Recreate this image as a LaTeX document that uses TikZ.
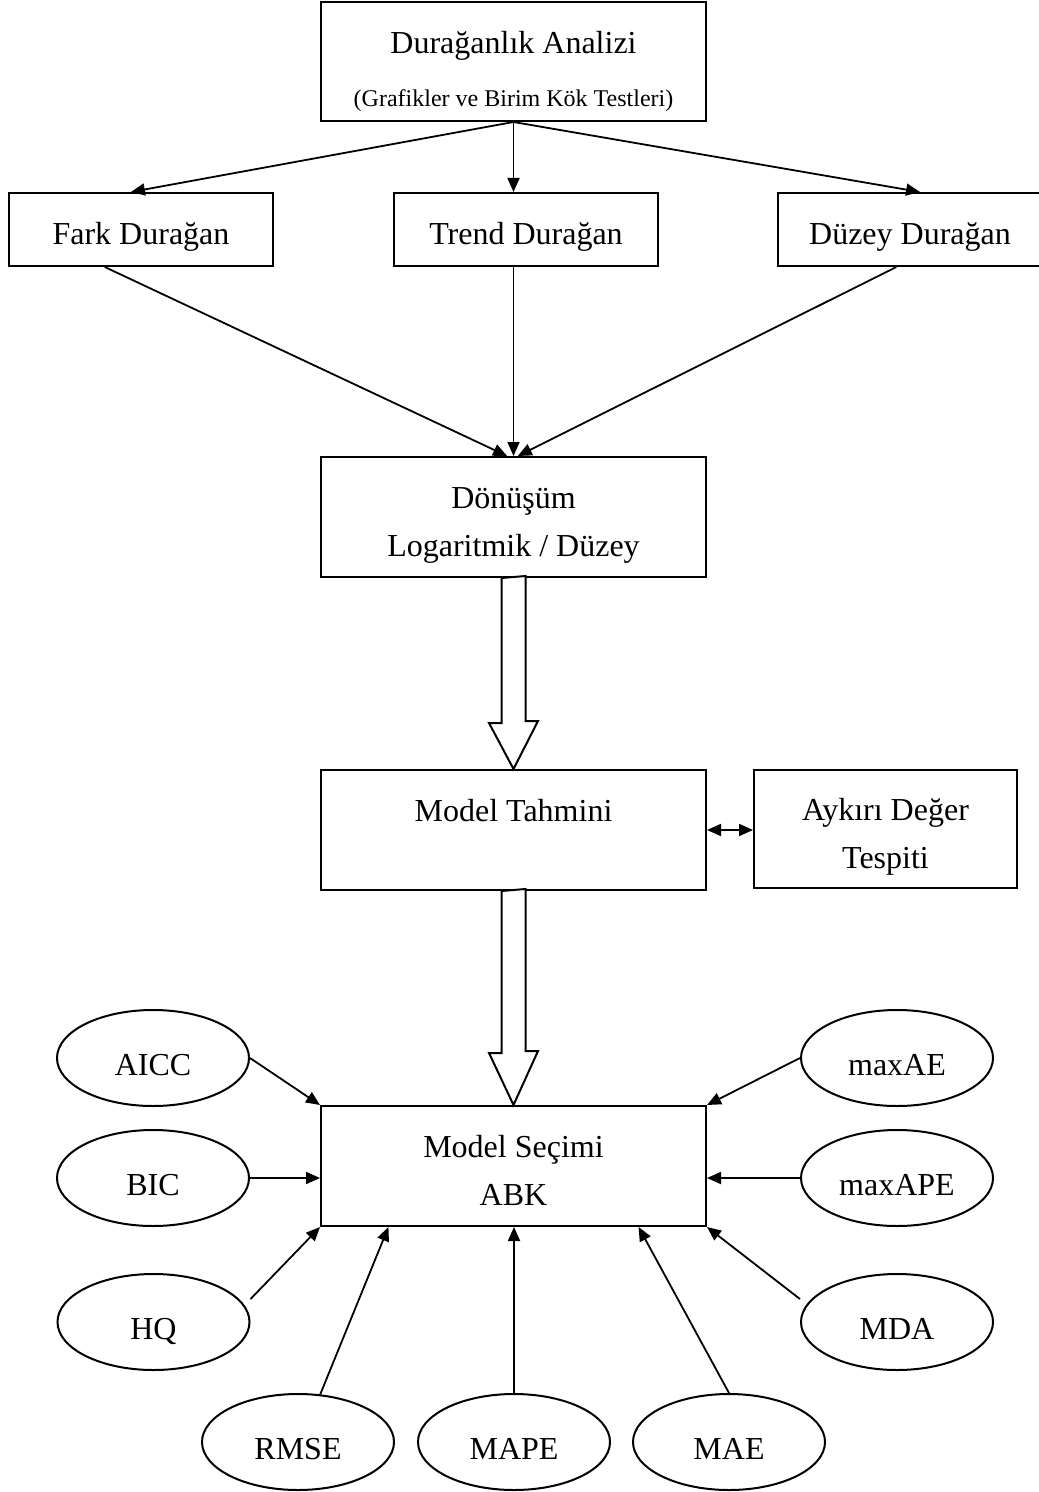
\documentclass[tikz,border=0pt]{standalone}
\usepackage{fontspec}
\setmainfont{Liberation Serif}
\usepackage{tikz}
\usetikzlibrary{shapes.geometric, arrows.meta}

\newcommand{\ustboy}{\rule{0pt}{19.5pt}}
\newcommand{\altboy}{\rule[-4.5pt]{0pt}{0pt}}

\tikzset{
  kutu/.style={rectangle, draw, line width=1pt, align=center, inner sep=0pt},
  tek/.style={text height=19.5pt, text depth=4pt},
  oval/.style={ellipse, draw, line width=1pt, minimum width=96pt, minimum height=48pt, inner sep=0pt, text height=19.5pt, text depth=2.5pt},
  ok/.style={line width=0.9pt, -{Triangle[length=7pt,width=6pt]}},
  bos/.style={draw, line width=1pt, fill=white}
}

\begin{document}
\begin{tikzpicture}[x=0.5pt, y=-0.5pt, font=\fontsize{16}{24}\selectfont]
  \path[use as bounding box, fill=white] (0,0) rectangle (1038,1492);

  \node[kutu, minimum width=192.5pt, minimum height=59.5pt] (Analiz) at (513.5,61.5) {\rule{0pt}{23.5pt}Durağanlık Analizi\\[2.5pt]{\fontsize{12}{14}\selectfont (Grafikler ve Birim Kök Testleri)\altboy}};
  \node[kutu, tek, minimum width=132pt, minimum height=36.5pt] (Fark) at (141,229.5) {Fark Durağan};
  \node[kutu, tek, minimum width=132pt, minimum height=36.5pt] (Trend) at (526,229.5) {Trend Durağan};
  \node[kutu, tek, minimum width=132pt, minimum height=36.5pt] (Duzey) at (910,229.5) {Düzey Durağan};
  \draw[ok] (Analiz.south) -- (Fark.105);
  \draw[ok] (Analiz.south) -- (Analiz.south |- Trend.north);
  \draw[ok] (Analiz.south) -- (Duzey.75);

  \node[kutu, minimum width=192.5pt, minimum height=60pt] (Donusum) at (513.5,517) {\ustboy Dönüşüm\\Logaritmik / Düzey\altboy};
  \draw[ok] (Fark.226) -- (Donusum.96);
  \draw[ok] (Trend.south -| Donusum.north) -- (Donusum.north);
  \draw[ok] (Duzey.250) -- (Donusum.86);

  \node[kutu, minimum width=192.5pt, minimum height=60pt] (Tahmin) at (513.5,830) {\ustboy Model Tahmini\\ \altboy};
  \node[kutu, minimum width=131.5pt, minimum height=59pt] (Aykiri) at (885.5,829) {\ustboy Aykırı Değer\\Tespiti\altboy};
  \draw[ok, {Triangle[length=7pt,width=6pt]}-{Triangle[length=7pt,width=6pt]}] (Tahmin.east) -- (Tahmin.east -| Aykiri.west);

  % bos oklar
  \draw[bos] (Donusum.south) ++(-12,0) -- ++(0,145) -- ++(-12.5,0) -- (Tahmin.north) -- ++(24.5,-48) -- ++(-12.5,0) -- ++(0,-145) -- cycle;

  \node[kutu, minimum width=192.5pt, minimum height=60pt] (Secim) at (513.5,1166) {\ustboy Model Seçimi\\ABK\altboy};
  \draw[bos] (Tahmin.south) ++(-12,0) -- ++(0,162) -- ++(-12.5,0) -- (Secim.north) -- ++(24.5,-54) -- ++(-12.5,0) -- ++(0,-162) -- cycle;

  \node[oval] (AICC) at (153,1058) {AICC};
  \node[oval] (BIC) at (153,1178) {BIC};
  \node[oval] (HQ) at (153.5,1322) {HQ};
  \node[oval] (RMSE) at (298,1442) {RMSE};
  \node[oval] (MAPE) at (514,1442) {MAPE};
  \node[oval] (MAE) at (729,1442) {MAE};
  \node[oval] (MDA) at (897,1322) {MDA};
  \node[oval] (maxAPE) at (897,1178) {maxAPE};
  \node[oval] (maxAE) at (897,1058) {maxAE};

  \draw[ok] (AICC.east) -- (Secim.north west);
  \draw[ok] (BIC.east) -- (BIC.east -| Secim.west);
  \draw[ok] (HQ.east |- HQ.15) -- (Secim.south west);
  \draw[ok] (RMSE.65) -- (Secim.206.5);
  \draw[ok] (MAPE.north) -- (MAPE.north |- Secim.south);
  \draw[ok] (MAE.north) -- (Secim.334.6);
  \draw[ok] (MDA.west |- MDA.165) -- (Secim.south east);
  \draw[ok] (maxAPE.west) -- (maxAPE.west -| Secim.east);
  \draw[ok] (maxAE.west) -- (Secim.north east);
\end{tikzpicture}
\end{document}
